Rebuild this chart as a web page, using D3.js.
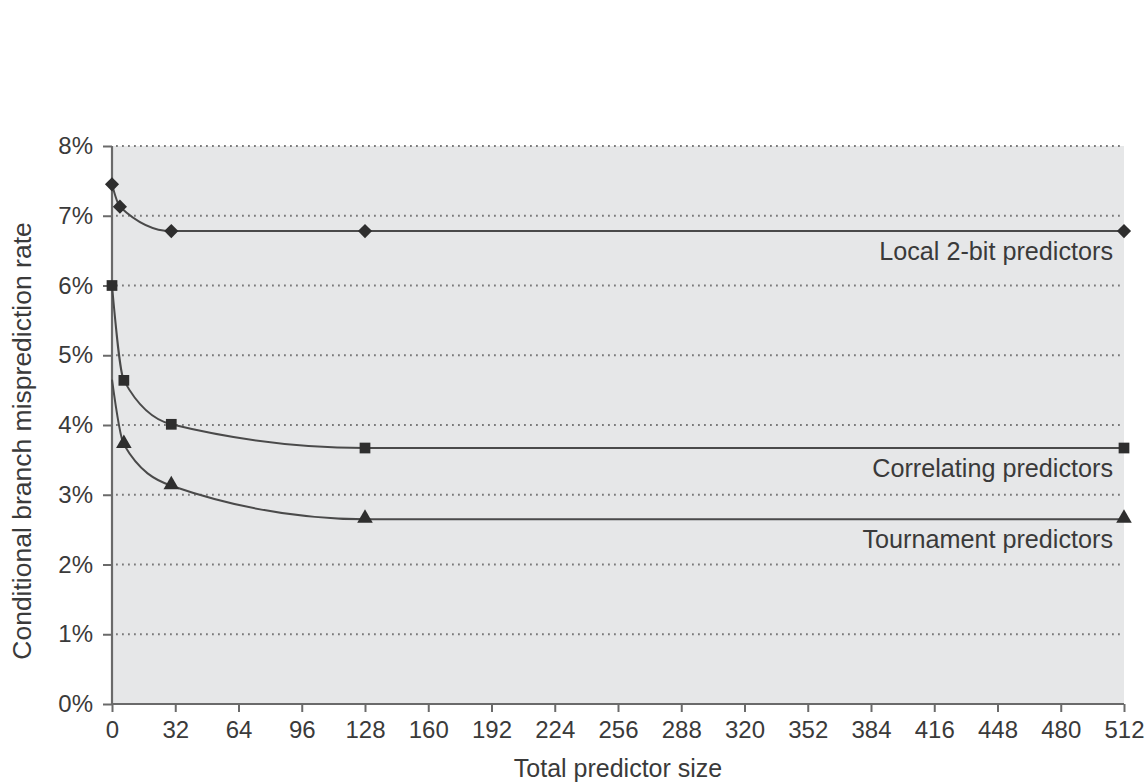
<!DOCTYPE html>
<html><head><meta charset="utf-8">
<script src="https://cdn.jsdelivr.net/npm/d3@7"></script>
<style>
html,body{margin:0;padding:0;background:#fff;}
text{font-family:"Liberation Sans",Arial,Helvetica,sans-serif;fill:#3a3a3a;}
</style></head>
<body>
<svg id="chart" width="1148" height="783"></svg>
<script>
// Data (x = total predictor size, y = misprediction rate)
const localX = [0, 4, 30, 128, 512];
const localY = [0.0745, 0.0713, 0.0678, 0.0678, 0.0678];
const corrX = [0, 6, 30, 128, 512];
const corrY = [0.0600, 0.0464, 0.0401, 0.0367, 0.0367];
const tournCurveX = [0, 6, 30, 128, 512];
const tournCurveY = [0.0465, 0.0372, 0.0313, 0.0265, 0.0265];
const tournMarkX = [6, 30, 128, 512];
const tournMarkY = [0.0372, 0.0313, 0.0265, 0.0265];
const xTicks = [0, 32, 64, 96, 128, 160, 192, 224, 256, 288, 320, 352, 384, 416, 448, 480, 512];
const yTicks = [0, 0.01, 0.02, 0.03, 0.04, 0.05, 0.06, 0.07, 0.08];
const seriesLabels = ["Local 2-bit predictors", "Correlating predictors", "Tournament predictors"];
const xTitle = "Total predictor size";
const yTitle = "Conditional branch misprediction rate";

const svg = d3.select("#chart");
const L = 112, R = 1124, T = 146, B = 704;
const x = d3.scaleLinear().domain([0, 512]).range([L, R]);
const y = d3.scaleLinear().domain([0, 0.08]).range([B, T]);

// plot background
svg.append("rect").attr("x", L).attr("y", T).attr("width", R - L).attr("height", B - T).attr("fill", "#e6e7e8");

// grid lines
svg.append("g").selectAll("line").data(yTicks.filter(d => d > 0)).join("line")
  .attr("x1", L + 4).attr("x2", R).attr("y1", d => y(d)).attr("y2", d => y(d))
  .attr("stroke", "#7a7a7a").attr("stroke-width", 1.8).attr("stroke-dasharray", "1.8,4.2");

// axes
const axisColor = "#6a6a6a";
const gx = svg.append("g").attr("transform", `translate(0,${B})`)
  .call(d3.axisBottom(x).tickValues(xTicks).tickSize(8).tickPadding(9).tickFormat(d3.format("d")));
const gy = svg.append("g").attr("transform", `translate(${L},0)`)
  .call(d3.axisLeft(y).tickValues(yTicks).tickSize(9).tickPadding(10).tickFormat(d3.format(".0%")));
[gx, gy].forEach(g => {
  g.attr("font-size", null).attr("font-family", null);
  g.select(".domain").attr("stroke", axisColor).attr("stroke-width", 2.2);
  g.selectAll(".tick line").attr("stroke", axisColor).attr("stroke-width", 2);
  g.selectAll(".tick text").style("font-size", "24px").attr("fill", "#3a3a3a")
    .style("font-family", "Liberation Sans, Arial, sans-serif");
});
gx.select(".domain").attr("d", `M${L},0H${R}`);
gy.select(".domain").attr("d", `M0,${B}V${T}`);

// curves
const line = d3.line().x(d => x(d[0])).y(d => y(d[1])).curve(d3.curveMonotoneX);
const zip = (a, b) => a.map((v, i) => [v, b[i]]);
const curves = [zip(localX, localY), zip(corrX, corrY), zip(tournCurveX, tournCurveY)];
svg.append("g").selectAll("path").data(curves).join("path")
  .attr("d", line).attr("fill", "none").attr("stroke", "#4a4a4a").attr("stroke-width", 2);

// markers
const mColor = "#2e2e2e";
svg.append("g").selectAll("path").data(zip(localX, localY)).join("path")
  .attr("transform", d => `translate(${x(d[0])},${y(d[1])}) rotate(45)`)
  .attr("d", d3.symbol(d3.symbolSquare, 100)).attr("fill", mColor);
svg.append("g").selectAll("path").data(zip(corrX, corrY)).join("path")
  .attr("transform", d => `translate(${x(d[0])},${y(d[1])})`)
  .attr("d", d3.symbol(d3.symbolSquare, 115)).attr("fill", mColor);
svg.append("g").selectAll("path").data(zip(tournMarkX, tournMarkY)).join("path")
  .attr("transform", d => `translate(${x(d[0])},${y(d[1]) - 1})`)
  .attr("d", d3.symbol(d3.symbolTriangle, 105)).attr("fill", mColor);

// series labels
const labelY = [localY[4], corrY[4], tournMarkY[3]];
svg.append("g").selectAll("text").data(seriesLabels).join("text")
  .attr("x", 1113).attr("y", (d, i) => y(labelY[i]) + 28.5)
  .attr("text-anchor", "end").style("font-size", "25.2px").text(d => d);

// axis titles
svg.append("text").attr("x", (L + R) / 2).attr("y", 777).attr("text-anchor", "middle")
  .style("font-size", "25px").text(xTitle);
svg.append("text").attr("transform", `translate(31,441) rotate(-90)`).attr("text-anchor", "middle")
  .style("font-size", "26.5px").text(yTitle);
</script>
</body></html>
